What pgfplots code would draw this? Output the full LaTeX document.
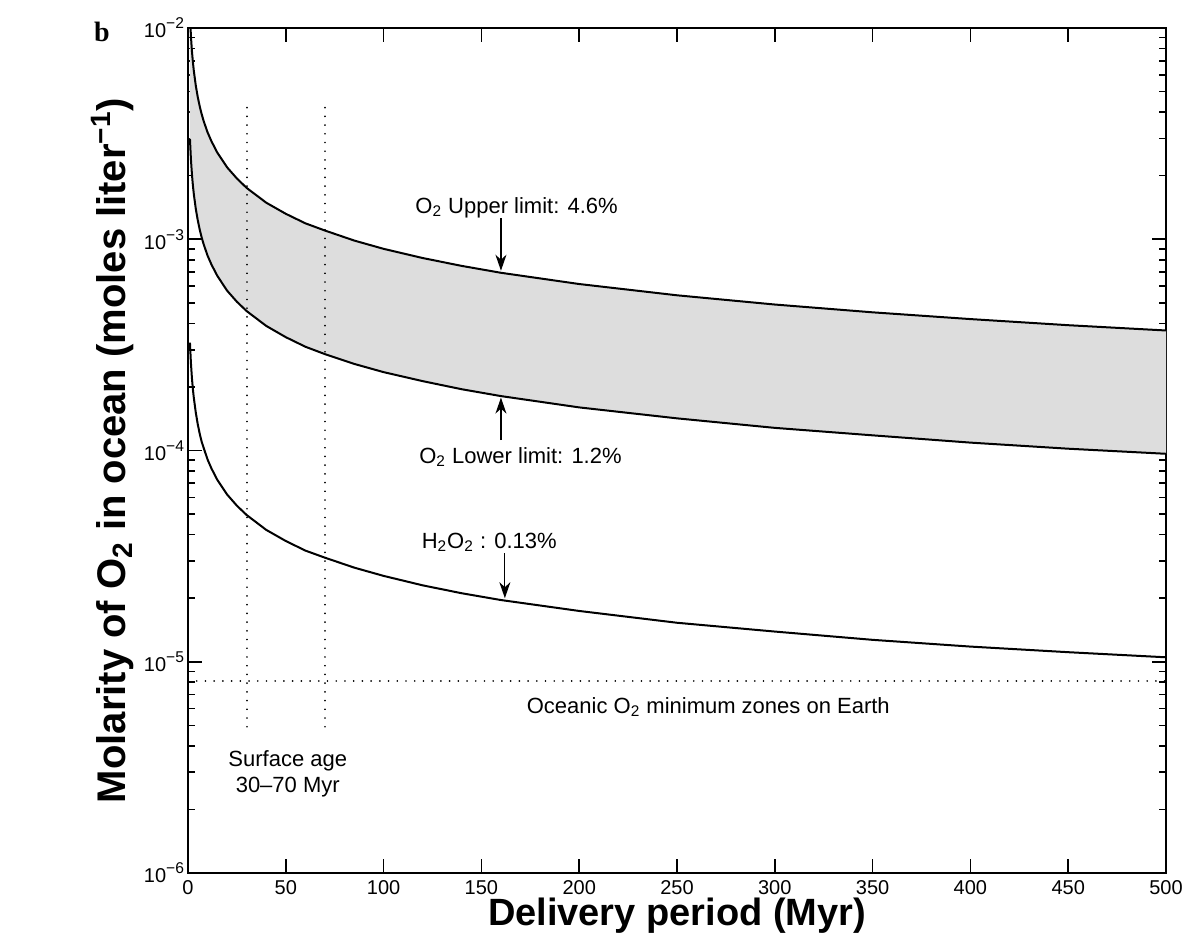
\documentclass[border=0pt]{standalone}
\usepackage{fontspec}
\setmainfont{Liberation Sans}
\newfontfamily\serifb{Liberation Serif}
\usepackage{pgfplots}
\pgfplotsset{compat=1.18}
\usetikzlibrary{arrows.meta}
\newcommand{\tensup}[1]{10\raisebox{0.45em}{\fontsize{7.8}{9}\selectfont −#1}}
\begin{document}
\begin{tikzpicture}
\useasboundingbox (-94pt,-30pt) rectangle (498.5pt,436.5pt);
\begin{axis}[
  at={(0,0)}, anchor=south west,
  scale only axis, width=489pt, height=422.5pt,
  ymode=log, xmin=0, xmax=500, ymin=1e-6, ymax=1e-2,
  xtick={0,50,...,500},
  ytick={1e-6,1e-5,1e-4,1e-3,1e-2},
  yticklabels={\tensup{6},\tensup{5},\tensup{4},\tensup{3},\tensup{2}},
  tick pos=both, xticklabel pos=lower, yticklabel pos=left,
  tick align=inside,
  major tick length=7pt, minor tick length=3.5pt,
  axis line style={line width=1pt},
  every tick/.style={black, line width=0.8pt},
  tick label style={font=\fontsize{10}{12}\selectfont},
  yticklabel style={xshift=1.5pt},
  /pgf/number format/assume math mode=true,
  xlabel={Delivery period (Myr)},
  ylabel={Molarity of O\textsubscript{2} in ocean (moles liter\textsuperscript{−1})},
  xlabel style={font=\bfseries\fontsize{19}{22}\selectfont, at={(axis description cs:0.5,-0.05)}, anchor=center},
  ylabel style={font=\bfseries\fontsize{20}{23}\selectfont, at={(axis description cs:-0.0767,0.5)}, anchor=center},
]
% shaded band between upper (4.6%) and lower (1.2%) limits
\addplot[fill=gray!27, draw=none] coordinates {
(1,1.146e-2) (1.5,9.16e-3) (2,7.81e-3) (2.5,6.91e-3) (3,6.25e-3) (4,5.33e-3)
(5,4.71e-3) (6,4.26e-3) (7,3.91e-3) (8,3.63e-3) (10,3.21e-3) (12,2.91e-3)
(15,2.57e-3) (20,2.19e-3) (25,1.94e-3) (30,1.75e-3) (40,1.49e-3) (50,1.32e-3)
(60,1.19e-3) (70,1.10e-3) (85,9.86e-4) (100,9.01e-4) (120,8.15e-4) (140,7.48e-4)
(160,6.94e-4) (200,6.14e-4) (250,5.43e-4) (300,4.91e-4) (350,4.51e-4)
(400,4.19e-4) (450,3.92e-4) (500,3.70e-4)
(500,9.65e-5) (450,1.02e-4) (400,1.09e-4) (350,1.18e-4) (300,1.28e-4)
(250,1.42e-4) (200,1.60e-4) (160,1.81e-4) (140,1.95e-4) (120,2.13e-4)
(100,2.35e-4) (85,2.57e-4) (70,2.86e-4) (60,3.10e-4) (50,3.44e-4) (40,3.89e-4)
(30,4.57e-4) (25,5.06e-4) (20,5.71e-4) (15,6.71e-4) (12,7.59e-4) (10,8.37e-4)
(8,9.47e-4) (7,1.02e-3) (6,1.11e-3) (5,1.23e-3) (4,1.39e-3) (3,1.63e-3)
(2.5,1.80e-3) (2,2.04e-3) (1.5,2.39e-3) (1,2.99e-3)} -- cycle;
\addplot[black, line width=1pt] coordinates {
(1,1.146e-2) (1.5,9.16e-3) (2,7.81e-3) (2.5,6.91e-3) (3,6.25e-3) (4,5.33e-3)
(5,4.71e-3) (6,4.26e-3) (7,3.91e-3) (8,3.63e-3) (10,3.21e-3) (12,2.91e-3)
(15,2.57e-3) (20,2.19e-3) (25,1.94e-3) (30,1.75e-3) (40,1.49e-3) (50,1.32e-3)
(60,1.19e-3) (70,1.10e-3) (85,9.86e-4) (100,9.01e-4) (120,8.15e-4) (140,7.48e-4)
(160,6.94e-4) (200,6.14e-4) (250,5.43e-4) (300,4.91e-4) (350,4.51e-4)
(400,4.19e-4) (450,3.92e-4) (500,3.70e-4)};
\addplot[black, line width=1pt] coordinates {
(1,2.99e-3) (1.5,2.39e-3) (2,2.04e-3) (2.5,1.80e-3) (3,1.63e-3) (4,1.39e-3)
(5,1.23e-3) (6,1.11e-3) (7,1.02e-3) (8,9.47e-4) (10,8.37e-4) (12,7.59e-4)
(15,6.71e-4) (20,5.71e-4) (25,5.06e-4) (30,4.57e-4) (40,3.89e-4) (50,3.44e-4)
(60,3.10e-4) (70,2.86e-4) (85,2.57e-4) (100,2.35e-4) (120,2.13e-4) (140,1.95e-4)
(160,1.81e-4) (200,1.60e-4) (250,1.42e-4) (300,1.28e-4) (350,1.18e-4)
(400,1.09e-4) (450,1.02e-4) (500,9.65e-5)};
\addplot[black, line width=1pt] coordinates {
(1,3.24e-4) (1.5,2.59e-4) (2,2.21e-4) (2.5,1.95e-4) (3,1.77e-4) (4,1.51e-4)
(5,1.33e-4) (6,1.20e-4) (7,1.10e-4) (8,1.03e-4) (10,9.07e-5) (12,8.22e-5)
(15,7.26e-5) (20,6.19e-5) (25,5.48e-5) (30,4.95e-5) (40,4.21e-5) (50,3.73e-5)
(60,3.36e-5) (70,3.11e-5) (85,2.79e-5) (100,2.55e-5) (120,2.30e-5) (140,2.11e-5)
(160,1.96e-5) (200,1.74e-5) (250,1.53e-5) (300,1.39e-5) (350,1.27e-5)
(400,1.18e-5) (450,1.11e-5) (500,1.05e-5)};
% dotted reference lines
\addplot[black, line width=0.9pt, line cap=round, dash pattern=on 0.01pt off 4.35pt] coordinates {(30,4.2e-3) (30,4.75e-6)};
\addplot[black, line width=0.9pt, line cap=round, dash pattern=on 0.01pt off 4.35pt] coordinates {(70,4.2e-3) (70,4.75e-6)};
\addplot[black, line width=0.9pt, line cap=round, dash pattern=on 0.01pt off 4.35pt] coordinates {(0,8.1e-6) (500,8.1e-6)};
% annotations
\node[font=\fontsize{11}{13}\selectfont] at (axis cs:168,1.41e-3) {O\textsubscript{2} Upper limit: 4.6\%};
\draw[-{Stealth[length=8pt,width=5.5pt,inset=2.5pt]}, line width=0.6pt] (axis cs:160,1.26e-3) -- (axis cs:160,7.1e-4);
\node[font=\fontsize{11}{13}\selectfont] at (axis cs:170,9.3e-5) {O\textsubscript{2} Lower limit: 1.2\%};
\draw[-{Stealth[length=8pt,width=5.5pt,inset=2.5pt]}, line width=0.6pt] (axis cs:160,1.12e-4) -- (axis cs:160,1.78e-4);
\node[font=\fontsize{11}{13}\selectfont] at (axis cs:154,3.69e-5) {H\textsubscript{2}O\textsubscript{2} : 0.13\%};
\draw[-{Stealth[length=8pt,width=5.5pt,inset=2.5pt]}, line width=0.6pt] (axis cs:162,3.27e-5) -- (axis cs:162,2.0e-5);
\node[font=\fontsize{11}{13}\selectfont] at (axis cs:266,6.1e-6) {Oceanic O\textsubscript{2} minimum zones on Earth};
\node[font=\fontsize{11}{13}\selectfont, align=center] at (axis cs:51,2.94e-6) {Surface age\\30–70 Myr};
\end{axis}
\node[font=\serifb\bfseries\fontsize{14}{16}\selectfont] at (-43pt,420.5pt) {b};
\end{tikzpicture}
\end{document}
